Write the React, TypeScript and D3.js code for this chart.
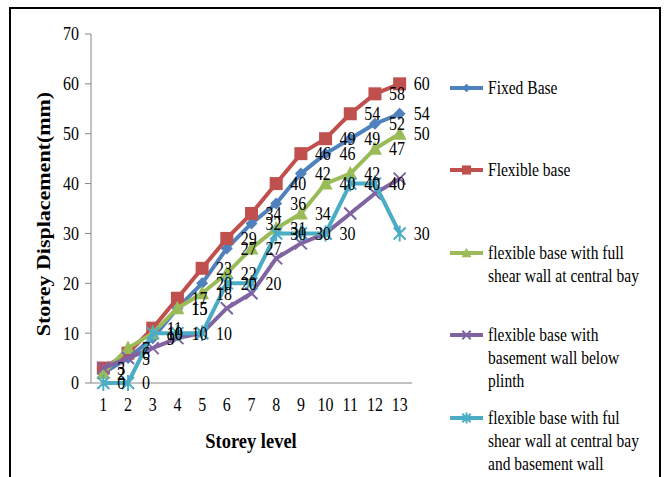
import React from "react";
import * as d3 from "d3";

const categories = ["1", "2", "3", "4", "5", "6", "7", "8", "9", "10", "11", "12", "13"];
const fixedBase = [2, 5, 9, 15, 20, 27, 32, 36, 42, 46, 49, 52, 54];
const flexibleBase = [3, 6, 11, 17, 23, 29, 34, 40, 46, 49, 54, 58, 60];
const fullShearWall = [2, 7, 10, 15, 18, 22, 27, 31, 34, 40, 42, 47, 50];
const basementWall = [3, 5, 7, 9, 10, 15, 18, 25, 28, 30, 34, 38, 41];
const shearAndBasement = [0, 0, 10, 10, 10, 20, 20, 30, 30, 30, 40, 40, 30];
const yTicks = [0, 10, 20, 30, 40, 50, 60, 70];
const seriesNames = [
  "Fixed Base",
  "Flexible base",
  "flexible base with full shear wall at central bay",
  "flexible base with basement wall below plinth",
  "flexible base with ful shear wall at central bay and basement wall",
];
const legendLines = [
  ["Fixed Base"],
  ["Flexible base"],
  ["flexible base with full", "shear wall at central bay"],
  ["flexible base with", "basement wall below", "plinth"],
  ["flexible base with ful", "shear wall at central bay", "and basement wall"],
];

const FONT = "'Liberation Serif', 'Times New Roman', serif";
const SX = 0.84;

type Marker = "diamond" | "square" | "triangle" | "x" | "asterisk";

const series = [
  { name: seriesNames[0], values: fixedBase, color: "#4F81BD", marker: "diamond" as Marker, labels: true },
  { name: seriesNames[1], values: flexibleBase, color: "#C0504D", marker: "square" as Marker, labels: true },
  { name: seriesNames[2], values: fullShearWall, color: "#9BBB59", marker: "triangle" as Marker, labels: true },
  { name: seriesNames[3], values: basementWall, color: "#8064A2", marker: "x" as Marker, labels: false },
  { name: seriesNames[4], values: shearAndBasement, color: "#4BACC6", marker: "asterisk" as Marker, labels: true },
];

function markerEl(m: Marker, color: string, s: number) {
  switch (m) {
    case "diamond":
      return <path d={`M0,${-6 * s}L${6 * s},0L0,${6 * s}L${-6 * s},0Z`} fill={color} />;
    case "square":
      return <rect x={-6.5 * s} y={-6.5 * s} width={13 * s} height={13 * s} fill={color} />;
    case "triangle":
      return <path d={`M0,${-7.5 * s}L${7 * s},${6 * s}L${-7 * s},${6 * s}Z`} fill={color} />;
    case "x":
      return (
        <path
          d={`M${-6 * s},${-6 * s}L${6 * s},${6 * s}M${6 * s},${-6 * s}L${-6 * s},${6 * s}`}
          stroke={color}
          strokeWidth={2}
          fill="none"
        />
      );
    case "asterisk":
      return (
        <path
          d={`M${-6 * s},${-6 * s}L${6 * s},${6 * s}M${6 * s},${-6 * s}L${-6 * s},${6 * s}M0,${-8 * s}L0,${8 * s}`}
          stroke={color}
          strokeWidth={2}
          fill="none"
        />
      );
  }
}

function SText({ x, y, children, size, anchor = "start", bold = false, rotate = 0 }: any) {
  const t = rotate
    ? `translate(${x},${y}) scale(${SX},1) rotate(${rotate})`
    : `translate(${x},${y}) scale(${SX},1)`;
  return (
    <text
      transform={t}
      fontFamily={FONT}
      fontSize={size}
      fontWeight={bold ? "bold" : "normal"}
      textAnchor={anchor}
      dominantBaseline="central"
      fill="#000"
    >
      {children}
    </text>
  );
}

export default function App() {
  const W = 665;
  const H = 477;
  const x = d3.scaleBand<string>().domain(categories).range([91, 412]).padding(0);
  const y = d3.scaleLinear().domain([0, 70]).range([383, 34]);
  const cx = (i: number) => (x(categories[i]) as number) + x.bandwidth() / 2;
  const line = d3
    .line<number>()
    .x((_, i) => cx(i))
    .y((d) => y(d));

  const legendY = [88, 170, 253, 335, 418];

  return (
    <svg
      width={W}
      height={H}
      viewBox={`0 0 ${W} ${H}`}
      style={{ position: "absolute", left: 0, top: 0, background: "#fff" }}
    >
      <rect x={0} y={0} width={W} height={H} fill="#fff" />
      <rect x={10} y={8} width={650} height={490} fill="#fff" stroke="#000" strokeWidth={2} />

      {/* axes */}
      <line x1={91} x2={91} y1={y(70)} y2={y(0)} stroke="#868686" strokeWidth={1} />
      <line x1={91} x2={412} y1={y(0)} y2={y(0)} stroke="#868686" strokeWidth={1} />
      {yTicks.map((t) => (
        <g key={t}>
          <line x1={85} x2={91} y1={y(t)} y2={y(t)} stroke="#868686" strokeWidth={1} />
          <SText x={79} y={y(t)} size={19} anchor="end">
            {t}
          </SText>
        </g>
      ))}
      {categories.map((c, i) => (
        <SText key={c} x={cx(i)} y={405} size={19} anchor="middle">
          {c}
        </SText>
      ))}

      <SText x={44} y={214} size={22} anchor="middle" bold rotate={-90}>
        Storey Displacement(mm)
      </SText>
      <SText x={251} y={440} size={22} anchor="middle" bold>
        Storey level
      </SText>

      {/* series */}
      {series.map((s) => (
        <g key={s.name}>
          <path d={line(s.values) as string} fill="none" stroke={s.color} strokeWidth={4} strokeLinejoin="round" />
          {s.values.map((v, i) => (
            <g key={i} transform={`translate(${cx(i)},${y(v)})`}>
              {markerEl(s.marker, s.color, 1)}
            </g>
          ))}
        </g>
      ))}

      {/* data labels */}
      {series
        .filter((s) => s.labels)
        .map((s) => (
          <g key={s.name + "-lbl"}>
            {s.values.map((v, i) => (
              <SText key={i} x={cx(i) + 14} y={y(v)} size={19}>
                {v}
              </SText>
            ))}
          </g>
        ))}

      {/* legend */}
      {series.map((s, k) => (
        <g key={s.name + "-leg"}>
          <line x1={450} x2={483} y1={legendY[k]} y2={legendY[k]} stroke={s.color} strokeWidth={4} />
          <g transform={`translate(466.5,${legendY[k]})`}>{markerEl(s.marker, s.color, 0.7)}</g>
          {legendLines[k].map((ln, j) => (
            <SText key={j} x={488} y={legendY[k] + j * 23} size={18.5}>
              {ln}
            </SText>
          ))}
        </g>
      ))}
    </svg>
  );
}
